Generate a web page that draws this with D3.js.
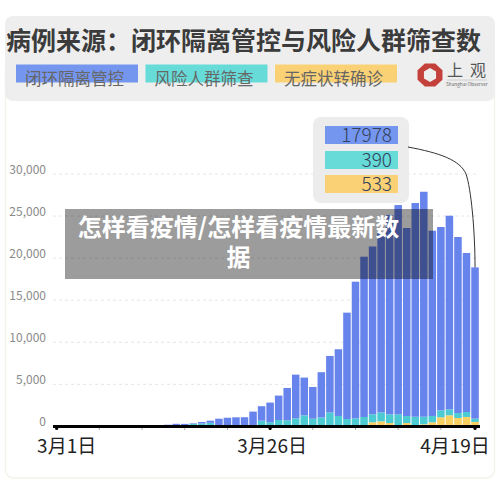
<!DOCTYPE html>
<html>
<head>
<meta charset="utf-8">
<script src="https://cdnjs.cloudflare.com/ajax/libs/d3/7.8.5/d3.min.js"></script>
<style>
html, body { margin: 0; padding: 0; background: #fff; }
svg { display: block; }
text { font-family: "Noto Sans CJK SC", "Noto Sans", sans-serif; }
</style>
</head>
<body>
<script>
var dates = [
  "3月1日","3月2日","3月3日","3月4日","3月5日","3月6日","3月7日","3月8日","3月9日","3月10日",
  "3月11日","3月12日","3月13日","3月14日","3月15日","3月16日","3月17日","3月18日","3月19日","3月20日",
  "3月21日","3月22日","3月23日","3月24日","3月25日","3月26日","3月27日","3月28日","3月29日","3月30日",
  "3月31日","4月1日","4月2日","4月3日","4月4日","4月5日","4月6日","4月7日","4月8日","4月9日",
  "4月10日","4月11日","4月12日","4月13日","4月14日","4月15日","4月16日","4月17日","4月18日","4月19日"];

// 闭环隔离管控
var closedLoop = [10,10,15,20,30,50,60,70,75,70,
  70,75,90,180,280,270,70,180,250,815,
  950,1000,1000,1620,1720,2340,2900,3845,5190,4480,
  3775,5380,6725,7930,12640,16240,19050,19944,21320,23700,
  24870,22350,25400,26740,22020,21790,23010,20920,18900,17978];
// 风险人群筛查
var screening = [0,0,0,0,0,0,0,0,0,0,
  0,0,0,20,30,30,300,340,430,100,
  80,80,90,140,680,490,760,725,960,1320,
  915,1060,1650,1240,880,960,1080,950,1070,1030,
  1380,830,1050,900,750,830,710,590,590,390];
// 无症状转确诊
var converted = [0,0,0,0,0,0,0,0,0,0,
  0,0,0,0,0,0,0,0,0,0,
  0,0,0,0,0,0,0,0,0,0,
  0,0,0,0,0,0,40,490,600,400,
  60,400,100,250,490,1080,1320,1000,1120,533];

var yTicks = [0,5000,10000,15000,20000,25000,30000];
var xLabels = ["3月1日","3月26日","4月19日"];
var xMinor = ["3月6日","3月11日","3月16日","3月21日","3月31日","4月5日","4月10日","4月15日"];
var legendNames = ["闭环隔离管控","风险人群筛查","无症状转确诊"];
var titleText = "病例来源：闭环隔离管控与风险人群筛查数";
var overlayLines = ["怎样看疫情/怎样看疫情最新数","据"];

var width = 500, height = 488;
var barColors = ["#fad061","#4ccbd3","#6783ec"];
var keyColors = ["#7596ee","#66dbd8","#fad174"];

var svg = d3.select("body").append("svg")
    .attr("width", width)
    .attr("height", height);

var x = d3.scaleBand().domain(dates).range([52.4, 479.3]).paddingInner(0.12).paddingOuter(0.06);
var y = d3.scaleLinear().domain([0, 30000]).range([426.4, 174]);

// page panels
svg.append("rect").attr("x", 5.5).attr("y", 60).attr("width", 489).attr("height", 418)
    .attr("rx", 8).attr("fill", "#fff").attr("stroke", "#f3f3ea").attr("stroke-width", 1.5);
svg.append("rect").attr("x", 5).attr("y", 16).attr("width", 490).attr("height", 85)
    .attr("rx", 8).attr("fill", "#eeeeee");

svg.append("text").attr("x", 6).attr("y", 50)
    .attr("font-size", 25).attr("font-weight", 700).attr("fill", "#3b3b3b")
    .text(titleText);

// legend
var key = svg.selectAll("g.key").data(legendNames).enter().append("g")
    .attr("class", "key")
    .attr("transform", function(d, i) { return "translate(" + (16 + i * 129.5) + ",64.5)"; });
key.append("rect").attr("width", 122).attr("height", 18)
    .attr("fill", function(d, i) { return keyColors[i]; });
key.append("text").attr("x", 9).attr("y", 20)
    .attr("font-size", 16.5).attr("fill", "#666")
    .text(function(d) { return d; });

// logo
var logo = svg.append("g").attr("transform", "translate(430,75)");
logo.append("path").attr("fill", "#c4403a")
    .attr("d", d3.line()(d3.range(8).map(function(i) {
      var a = i * Math.PI / 4 + Math.PI / 8;
      return [13.5 * Math.cos(a), 12.5 * Math.sin(a)];
    })) + "Z");
logo.append("path").attr("fill", "#eee")
    .attr("d", d3.line()(d3.range(6).map(function(i) {
      var a = i * Math.PI / 3 + Math.PI / 6;
      return [7 * Math.cos(a), 7 * Math.sin(a)];
    })) + "Z");
svg.append("text").attr("x", 447).attr("y", 76).attr("font-size", 16).attr("fill", "#555")
    .attr("letter-spacing", 7).text("上观");
svg.append("line").attr("x1", 447).attr("x2", 487).attr("y1", 80).attr("y2", 80)
    .attr("stroke", "#bbb").attr("stroke-width", 0.6);
svg.append("text").attr("x", 446).attr("y", 85.5).attr("font-size", 4.7).attr("fill", "#666")
    .text("Shanghai Observer");

// y axis and grid
var yAxis = svg.append("g").attr("transform", "translate(46,0)")
    .call(d3.axisLeft(y).tickValues(yTicks).tickSize(0).tickPadding(0).tickFormat(d3.format(",")));
yAxis.select(".domain").remove();
yAxis.selectAll("text").attr("dy", "-0.08em").attr("font-size", 12)
    .attr("fill", "#8a8a8a").style("font-family", '"Noto Sans CJK SC"');

svg.append("g").selectAll("line").data(yTicks.slice(1)).enter().append("line")
    .attr("x1", 53).attr("x2", 478)
    .attr("y1", function(d) { return y(d); })
    .attr("y2", function(d) { return y(d); })
    .attr("stroke", "#e6e6e6").attr("stroke-dasharray", "3,3");

// stacked bars
var rows = dates.map(function(d, i) {
  return {date: d, converted: converted[i], screening: screening[i], closedLoop: closedLoop[i]};
});
var stack = d3.stack().keys(["converted","screening","closedLoop"])(rows);

svg.append("g").selectAll("g").data(stack).enter().append("g")
    .attr("fill", function(d, i) { return barColors[i]; })
  .selectAll("rect").data(function(d) { return d; }).enter().append("rect")
    .attr("x", function(d) { return x(d.data.date); })
    .attr("width", x.bandwidth())
    .attr("y", function(d) { return y(d[1]); })
    .attr("height", function(d) { return y(d[0]) - y(d[1]); });

// x axis
var xAxis = svg.append("g").attr("transform", "translate(0,426.5)")
    .call(d3.axisBottom(x).tickValues(xLabels).tickSize(0).tickPadding(13));
xAxis.select(".domain").remove();
xAxis.selectAll("text").attr("font-size", 19).attr("fill", "#222")
    .style("font-family", '"Noto Sans CJK SC"')
    .attr("text-anchor", "middle")
    .attr("dx", function(d) { return d == "3月1日" ? 10 : d == "3月26日" ? 2 : -20; });

svg.append("line").attr("x1", 53).attr("x2", 480).attr("y1", 426.5).attr("y2", 426.5)
    .attr("stroke", "#000").attr("stroke-width", 3);
svg.append("g").selectAll("line").data(xMinor).enter().append("line")
    .attr("x1", function(d) { return x(d) + x.bandwidth() / 2; })
    .attr("x2", function(d) { return x(d) + x.bandwidth() / 2; })
    .attr("y1", 428).attr("y2", 430)
    .attr("stroke", "#aaa");
svg.append("g").selectAll("circle").data(xLabels).enter().append("circle")
    .attr("cx", function(d) { return x(d) + x.bandwidth() / 2; })
    .attr("cy", 428.5).attr("r", 1.6).attr("fill", "#000");

// tooltip for the last day
var lastDate = dates[dates.length - 1];
var lastValues = [closedLoop[49], screening[49], converted[49]];
var lastTotal = d3.sum(lastValues);
svg.append("rect").attr("x", 313).attr("y", 117).attr("width", 96).attr("height", 86)
    .attr("rx", 8).attr("fill", "#ececec");
var tip = svg.selectAll("g.tip").data(lastValues).enter().append("g")
    .attr("class", "tip")
    .attr("transform", function(d, i) { return "translate(325," + [126, 151, 175][i] + ")"; });
tip.append("rect").attr("width", 73).attr("height", 18)
    .attr("fill", function(d, i) { return keyColors[i]; });
tip.append("text").attr("x", 67).attr("y", 16).attr("text-anchor", "end")
    .attr("font-size", 19).attr("font-weight", 300).attr("fill", "#33415c")
    .text(function(d) { return d; });

var link = d3.path();
var endX = x(lastDate) + x.bandwidth() / 2;
link.moveTo(408, 147);
link.bezierCurveTo(440, 153, 460, 160, 466, 174);
link.bezierCurveTo(471, 188, endX, 230, endX, y(lastTotal));
svg.append("path").attr("d", link.toString()).attr("fill", "none")
    .attr("stroke", "#333").attr("stroke-width", 1);

// grey headline strip over the chart
svg.append("rect").attr("x", 65).attr("y", 209).attr("width", 368).attr("height", 70)
    .attr("fill", "#000").attr("fill-opacity", 0.39);
svg.selectAll("text.over").data(overlayLines).enter().append("text")
    .attr("class", "over")
    .attr("x", 238.5)
    .attr("y", function(d, i) { return 236 + i * 30; })
    .attr("text-anchor", "middle")
    .attr("font-size", 24).attr("font-weight", 700).attr("fill", "#fff")
    .text(function(d) { return d; });
</script>
</body>
</html>
